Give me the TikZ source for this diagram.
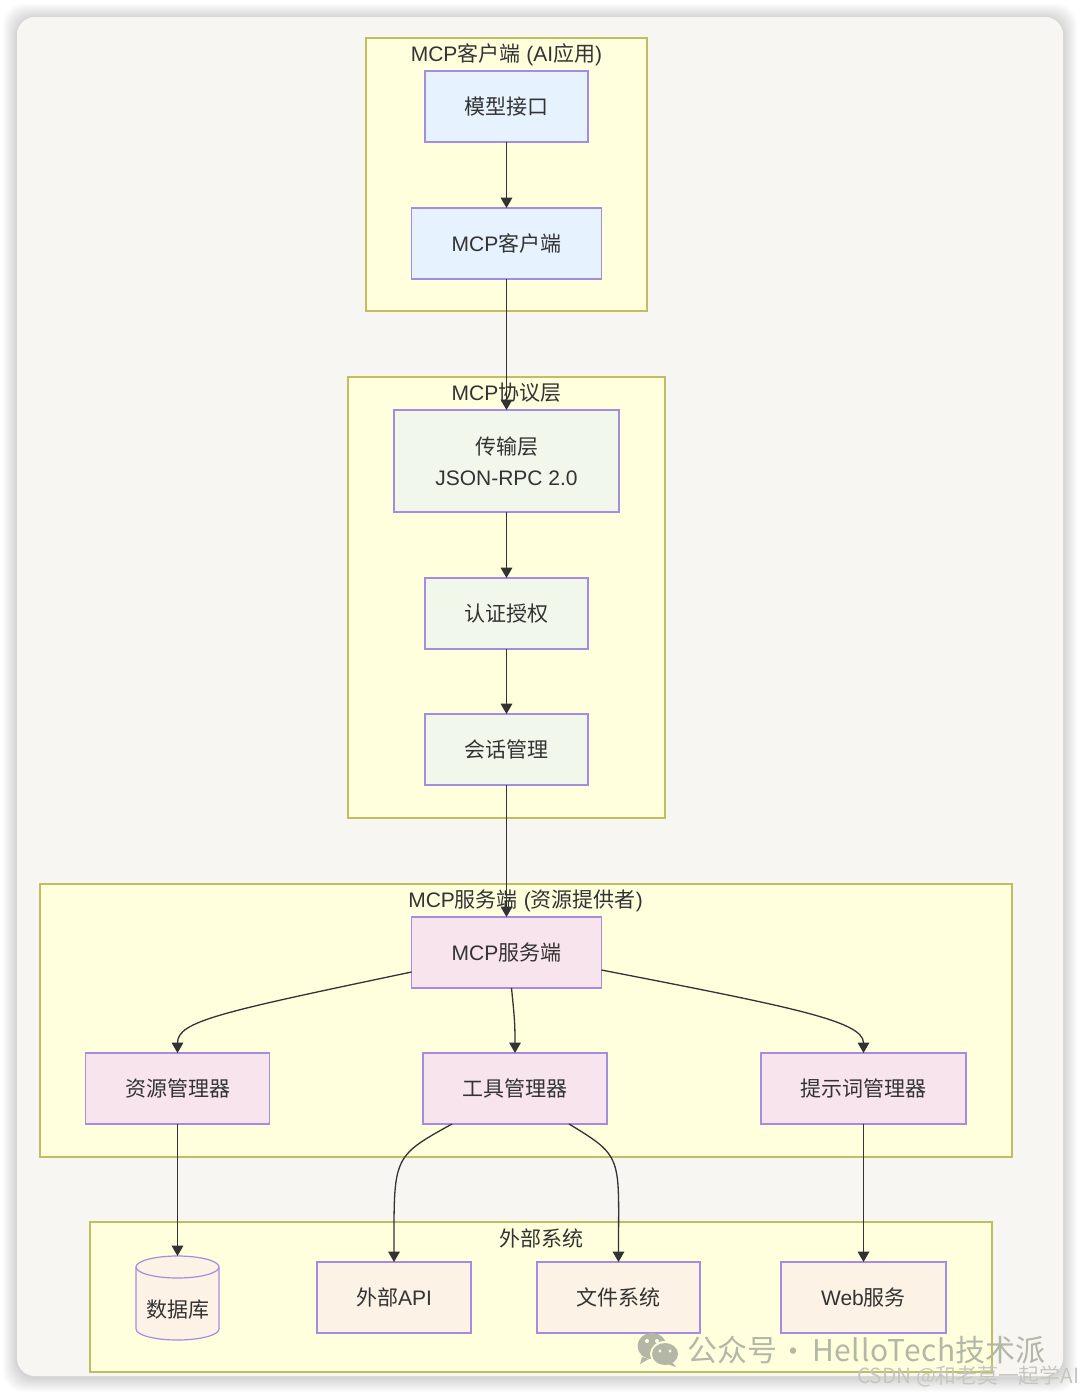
\documentclass[tikz,border=0pt]{standalone}
\usepackage{fontspec}
\usepackage{xcolor}
\setmainfont{Liberation Sans}
\newfontfamily\cjk{Noto Sans CJK SC}
\newfontfamily\markfont[LetterSpace=2.6]{Noto Sans CJK SC}
\newcommand{\zh}[1]{{\cjk #1}}
\usetikzlibrary{arrows.meta, positioning}
\definecolor{cardbg}{HTML}{F7F6F3}
\definecolor{groupbg}{HTML}{FFFFDE}
\definecolor{groupline}{HTML}{BFBF60}
\definecolor{boxline}{HTML}{A48DE0}
\definecolor{inkline}{HTML}{333333}
\definecolor{clientbg}{HTML}{E6F2FD}
\definecolor{protobg}{HTML}{F2F7EB}
\definecolor{serverbg}{HTML}{F8E4EC}
\definecolor{externbg}{HTML}{FCF2E5}
\definecolor{markgray}{HTML}{B5B7A6}
\definecolor{csdngray}{HTML}{C6C6C0}

\begin{document}
\begin{tikzpicture}[
x=0.5pt, y=-0.5pt,
node distance = 33pt and 33pt,
every node/.append style = {text=inkline, font=\fontsize{10.5}{15.5}\selectfont, outer sep=0pt, inner sep=0pt},
groupbox/.style = {draw=groupline, line width=0.7pt, fill=groupbg},
grouptitle/.style = {anchor=center},
basebox/.style = {draw=boxline, line width=0.6pt, minimum height=35.5pt, align=center},
clientbox/.style = {basebox, fill=clientbg},
protobox/.style = {basebox, fill=protobg},
serverbox/.style = {basebox, fill=serverbg},
externbox/.style = {basebox, fill=externbg},
wmarkpart/.style = {anchor=west, text=markgray, font=\fontsize{15}{18}\selectfont},
link/.style = {draw=inkline, line width=0.65pt, -{Triangle[length=5.2pt,width=5.8pt]}},
]
\useasboundingbox (0,0) rectangle (1080,1393);
% card and its soft shadow
\foreach \s in {1,...,14}
  \fill [black, opacity=0.012, rounded corners=10pt]
    ({17-\s},{18-\s}) rectangle ({1063+\s},{1378+\s});
\fill [cardbg, rounded corners=9pt] (17,17) rectangle (1063,1376);

% groups
\node (clientgroup) [groupbox, minimum width=140.5pt, minimum height=136.5pt] at (506.5,174.5) {};
\node (protogroup)  [groupbox, minimum width=158.5pt, minimum height=220.5pt] at (506.5,597.5) {};
\node (servergroup) [groupbox, minimum width=486pt, minimum height=136.5pt] at (526,1020.5) {};
\node (externgroup) [groupbox, minimum width=451pt, minimum height=75pt] at (541,1297) {};
\node (clienttitle) [grouptitle] at (506.5,55) {MCP\zh{客户端} (AI\zh{应用})};
\node (prototitle)  [grouptitle] at (506.5,392.5) {MCP\zh{协议层}};
\node (servertitle) [grouptitle] at (525.5,901) {MCP\zh{服务端} (\zh{资源提供者})};
\node (externtitle) [grouptitle] at (541,1238) {\zh{外部系统}};

% client
\node (modelif)   [clientbox, minimum width=81.5pt] at (506.5,106.5) {\zh{模型接口}};
\node (mcpclient) [clientbox, minimum width=95pt, below=of modelif] {MCP\zh{客户端}};
% protocol
\node (transport) [protobox, minimum width=112.5pt, minimum height=51pt, below=65.5pt of mcpclient] {\zh{传输层}\\JSON-RPC 2.0};
\node (authz)     [protobox, minimum width=81.5pt, below=of transport] {\zh{认证授权}};
\node (session)   [protobox, minimum width=81.5pt, below=32.5pt of authz] {\zh{会话管理}};
% server
\node (mcpserver) [serverbox, minimum width=95pt, below=66pt of session] {MCP\zh{服务端}};
\node (resmgr)    [serverbox, minimum width=92pt] at (177.5,1088.5) {\zh{资源管理器}};
\node (toolmgr)   [serverbox, minimum width=92pt] at (515,1088.5) {\zh{工具管理器}};
\node (promptmgr) [serverbox, minimum width=102.5pt] at (863.5,1088.5) {\zh{提示词管理器}};
% external
\node (database) [minimum width=41.5pt, minimum height=42pt] at (177.5,1298) {};
\draw [draw=boxline, line width=0.6pt, fill=externbg]
  (136,1267) -- (136,1329) arc [start angle=180, end angle=0, x radius=41.5, y radius=11]
  -- (219,1267) arc [start angle=0, end angle=-180, x radius=41.5, y radius=11] -- cycle;
\draw [draw=boxline, line width=0.6pt]
  (136,1267) arc [start angle=180, end angle=0, x radius=41.5, y radius=11];
\node (dbtext)   at (177.5,1310) {\zh{数据库}};
\node (extapi)   [externbox, minimum width=77pt] at (394,1297.5) {\zh{外部}API};
\node (filesys)  [externbox, minimum width=81.5pt] at (618.5,1297.5) {\zh{文件系统}};
\node (websvc)   [externbox, minimum width=82.5pt] at (863.5,1297.5) {Web\zh{服务}};

\draw [link] (modelif) -- (mcpclient);
\draw [link] (mcpclient) -- (transport);
\draw [link] (transport) -- (authz);
\draw [link] (authz) -- (session);
\draw [link] (session) -- (mcpserver);
\draw [link] ([yshift=-9.75pt]mcpserver.west) .. controls +(-190,40) and +(0,-32) .. (resmgr.north);
\draw [link] ([xshift=2.5pt]mcpserver.south) .. controls +(3,30) and +(0,-30) .. (toolmgr.north);
\draw [link] ([yshift=-8.75pt]mcpserver.east) .. controls +(190,37) and +(0,-32) .. (promptmgr.north);
\draw [link] (resmgr) -- (database.north);
\draw [link] ([xshift=-31.5pt]toolmgr.south) .. controls +(-60,33) and +(0,-105) .. (extapi.north);
\draw [link] ([xshift=27pt]toolmgr.south) .. controls +(55,33) and +(0,-105) .. (filesys.north);
\draw [link] (promptmgr) -- (websvc);

% watermark
\fill [markgray] (652,1346) ellipse [x radius=14.5, y radius=13];
\fill [groupbg] (665,1354) ellipse [x radius=15, y radius=13];
\fill [markgray] (665,1354) ellipse [x radius=13, y radius=11];
\fill [markgray] (642,1357) -- (640,1364) -- (649,1359) -- cycle;
\fill [markgray] (672,1362) -- (676,1367) -- (667,1364) -- cycle;
\foreach \ex/\ey in {647/1341, 657/1341} \fill [groupbg] (\ex,\ey) circle [radius=2];
\foreach \ex/\ey in {660/1351, 670/1351} \fill [cardbg] (\ex,\ey) circle [radius=1.7];
\node (wmarkzh)   [wmarkpart] at (687,1350) {\zh{公众号}};
\node (wmarkdot)  [wmarkpart, anchor=center] at (793,1355) {\zh{·}};
\node (wmarklat)  [wmarkpart] at (812,1350) {\markfont HelloTech};
\node (wmarktech) [wmarkpart] at (955,1350) {\zh{技术派}};
\node (csdn)  [anchor=west, text=csdngray, font=\fontsize{10.4}{12}\selectfont] at (857,1376) {\cjk CSDN @和老莫一起学AI};
\end{tikzpicture}
\end{document}
